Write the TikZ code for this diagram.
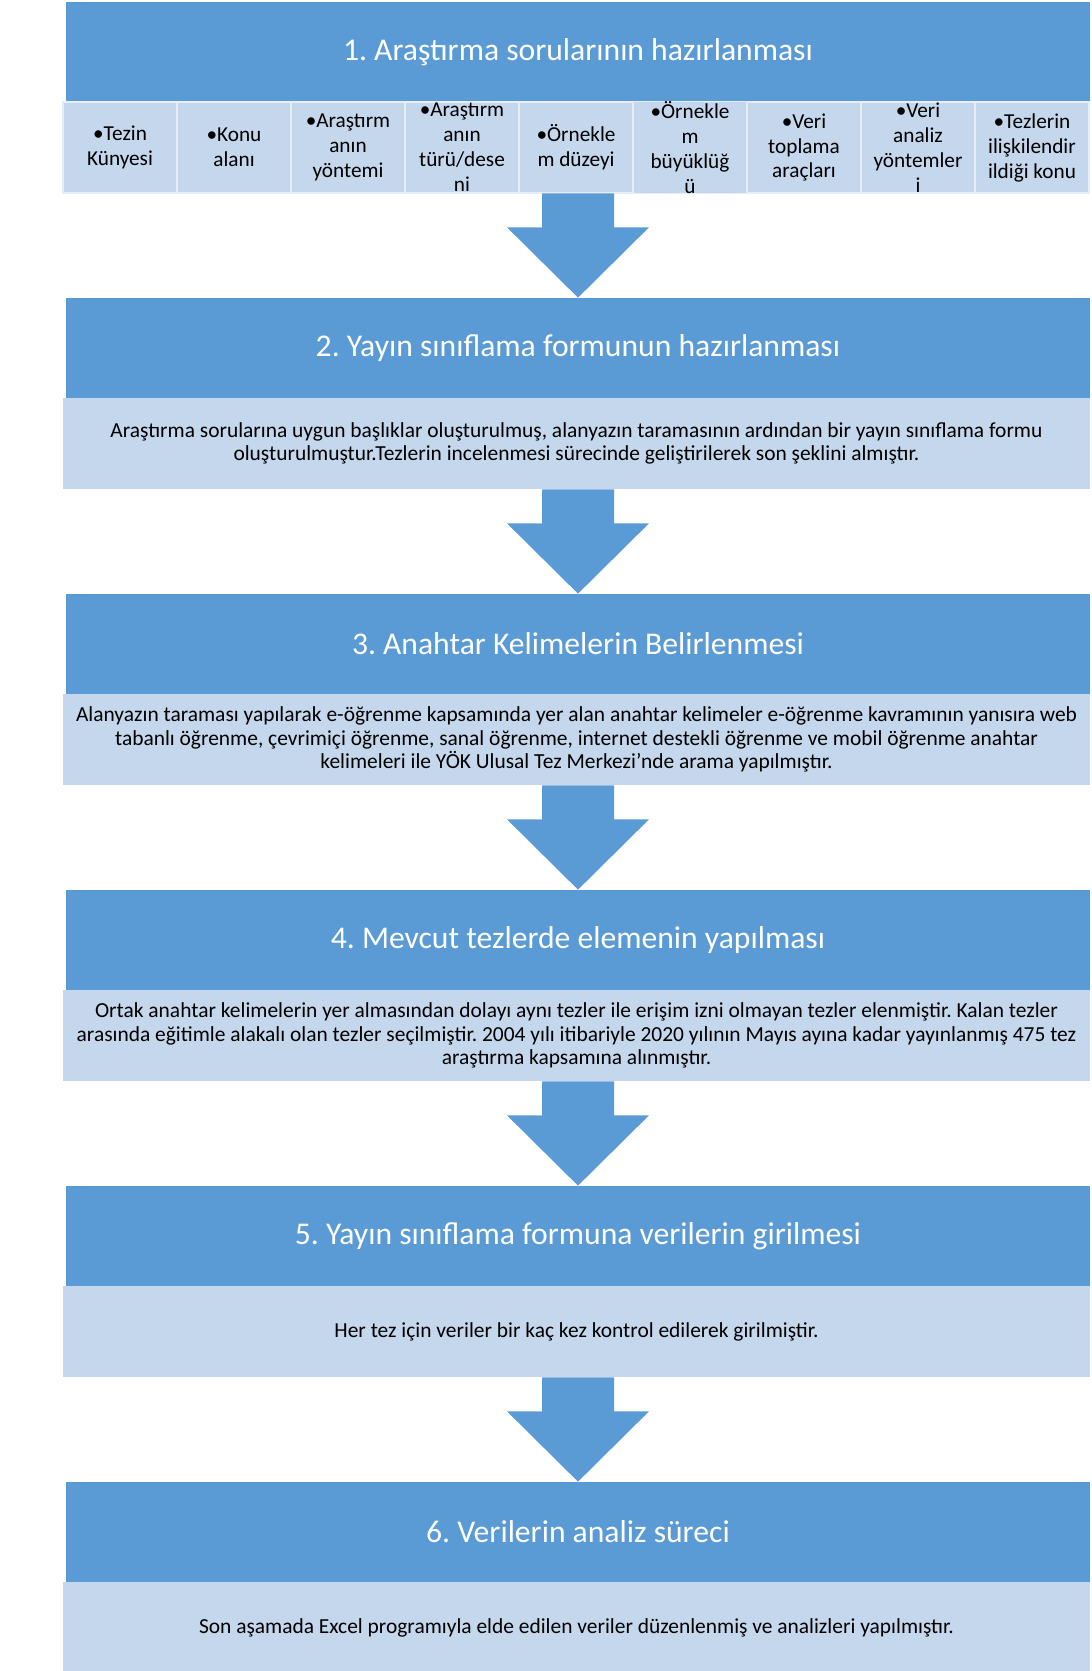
\documentclass[tikz,border=0pt]{standalone}
\usepackage{fontspec}
\setmainfont{Carlito}
\usepackage{tikz}
\usetikzlibrary{calc}
\definecolor{hblue}{HTML}{5B9BD5}
\definecolor{lblue}{HTML}{C5D7EC}
\frenchspacing

\begin{document}
\begin{tikzpicture}[
  x=0.02cm, y=-0.02cm,
  head/.style={fill=hblue, text=white, inner sep=0pt,
    minimum width=20.48cm, minimum height=2cm,
    font=\fontsize{18}{21}\selectfont},
  body/.style={fill=lblue, inner sep=0pt, align=center,
    minimum width=20.54cm, minimum height=1.82cm,
    font=\fontsize{12.2}{13.4}\selectfont},
  subbox/.style={fill=lblue, draw=white!55!lblue, line width=0.8pt,
    inner sep=0pt, align=center, minimum width=2.28cm, minimum height=1.82cm,
    font=\fontsize{12.1}{14.2}\selectfont},
  blockarrow/.style={fill=hblue}
]
  \useasboundingbox (0,0) rectangle (1092,1671);

  % step headers
  \node[head] (h1) at (578,52)   {1. Araştırma sorularının hazırlanması};
  \node[head] (h2) at (578,348)  {2. Yayın sınıflama formunun hazırlanması};
  \node[head] (h3) at (578,644)  {3. Anahtar Kelimelerin Belirlenmesi};
  \node[head] (h4) at (578,940)  {4. Mevcut tezlerde elemenin yapılması};
  \node[head] (h5) at (578,1236) {5. Yayın sınıflama formuna verilerin girilmesi};
  \node[head] (h6) at (578,1532) {6. Verilerin analiz süreci};

  % step texts
  \node[body] (b1) at (576.5,147.5) {};
  \node[body] (b2) at (576.5,443.5)
    {Araştırma sorularına uygun başlıklar oluşturulmuş, alanyazın taramasının ardından bir yayın sınıflama formu\\
     oluşturulmuştur.Tezlerin incelenmesi sürecinde geliştirilerek son şeklini almıştır.};
  \node[body] (b3) at (576.5,739.5)
    {Alanyazın taraması yapılarak e-öğrenme kapsamında yer alan anahtar kelimeler e-öğrenme kavramının yanısıra web\\
     tabanlı öğrenme, çevrimiçi öğrenme, sanal öğrenme, internet destekli öğrenme ve mobil öğrenme anahtar\\
     kelimeleri ile YÖK Ulusal Tez Merkezi’nde arama yapılmıştır.};
  \node[body] (b4) at (576.5,1035.5)
    {Ortak anahtar kelimelerin yer almasından dolayı aynı tezler ile erişim izni olmayan tezler elenmiştir. Kalan tezler\\
     arasında eğitimle alakalı olan tezler seçilmiştir. 2004 yılı itibariyle 2020 yılının Mayıs ayına kadar yayınlanmış 475 tez\\
     araştırma kapsamına alınmıştır.};
  \node[body] (b5) at (576.5,1331.5)
    {Her tez için veriler bir kaç kez kontrol edilerek girilmiştir.};
  \node[body] (b6) at (576.5,1627.5)
    {Son aşamada Excel programıyla elde edilen veriler düzenlenmiş ve analizleri yapılmıştır.};

  % form fields of step 1
  \foreach \i/\txt in {1/{•Tezin\\Künyesi}, 2/{•Konu\\alanı},
      3/{•Araştırm\\anın\\yöntemi}, 4/{•Araştırm\\anın\\türü/dese\\ni},
      5/{•Örnekle\\m düzeyi}, 6/{•Örnekle\\m\\büyüklüğ\\ü},
      7/{•Veri\\toplama\\araçları}, 8/{•Veri\\analiz\\yöntemler\\i},
      9/{•Tezlerin\\ilişkilendir\\ildiği konu}}
    \node[subbox] (s\i) at ({120+(\i-1)*114},147.5) {\txt};

  % block arrows between steps
  \foreach \a/\b in {b1/h2, b2/h3, b3/h4, b4/h5, b5/h6} {
    \coordinate (o) at (\a.south -| \b.north);
    \fill[blockarrow] ($(o)+(-36,0)$) -- ($(o)+(36,0)$) -- ($(o)+(36,34)$)
      -- ($(o)+(71,34)$) -- (\b.north) -- ($(o)+(-71,34)$)
      -- ($(o)+(-36,34)$) -- cycle;
  }
\end{tikzpicture}
\end{document}
